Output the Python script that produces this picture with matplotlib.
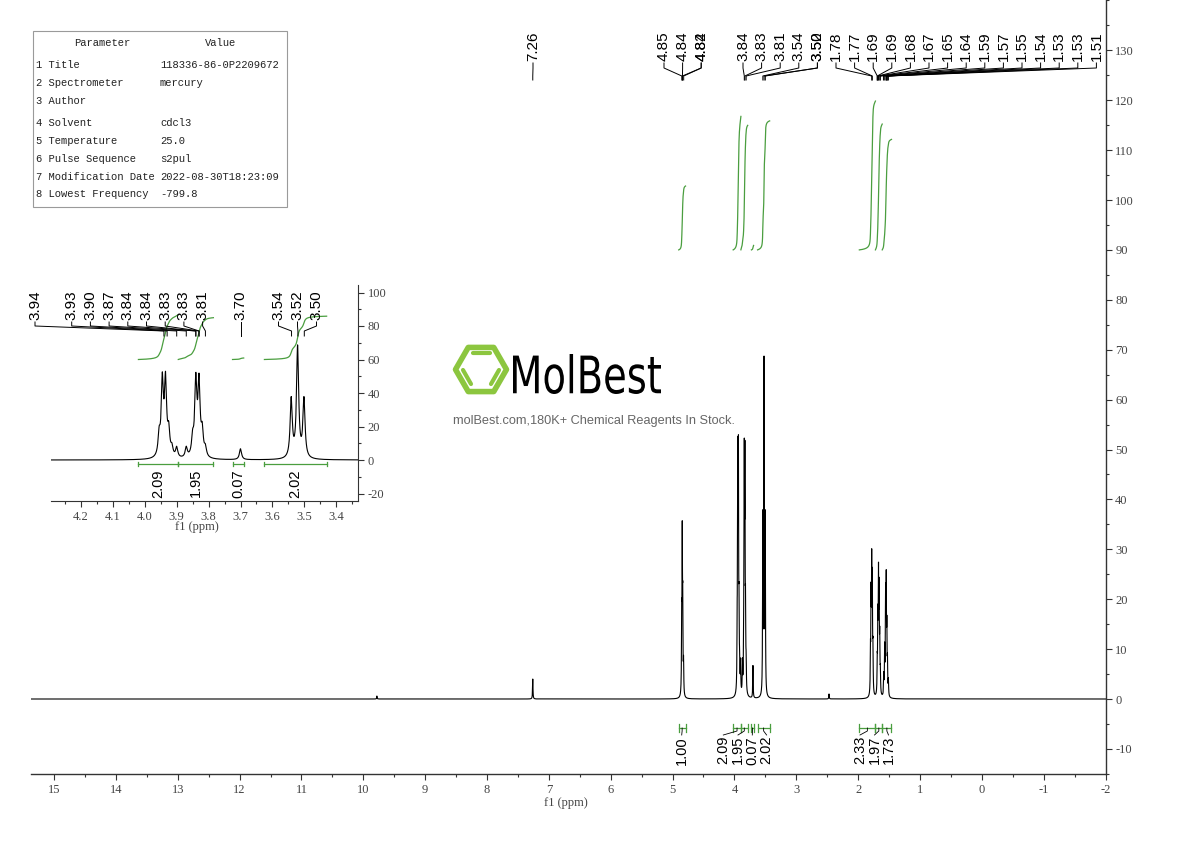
import numpy as np
import matplotlib
matplotlib.use("Agg")
import matplotlib.pyplot as plt
from matplotlib.patches import Rectangle, Polygon, PathPatch
from matplotlib.textpath import TextPath
from matplotlib.font_manager import FontProperties
from matplotlib.transforms import Affine2D
from matplotlib.ticker import MultipleLocator

plt.rcParams['axes.unicode_minus'] = False

# ---------------- data ----------------
peak_ppm = [9.78, 7.26,
            4.852, 4.843, 4.835, 4.822,
            3.955, 3.945, 3.935, 3.925, 3.915,
            3.900, 3.870,
            3.850, 3.840, 3.830, 3.820, 3.810,
            3.700,
            3.541, 3.521, 3.501,
            2.47,
            1.800, 1.790, 1.780, 1.770, 1.760,
            1.690, 1.680, 1.670, 1.660, 1.650, 1.640,
            1.585, 1.570, 1.555, 1.545, 1.535, 1.525, 1.510]
peak_height = [0.6, 4.0,
               14, 30, 16, 6,
               12, 44, 44, 14, 5,
               6, 6,
               10, 44, 43, 14, 5,
               6.5,
               35, 66, 35,
               1.0,
               8, 18, 24, 21, 8,
               6, 14, 22, 19, 10, 4,
               4, 9, 19, 21, 12, 6, 3]
line_hwhm = 0.004

main_labels = ['7.26', '4.85', '4.84', '4.84', '4.82', '3.84', '3.83', '3.81', '3.54',
               '3.52', '3.50', '1.78', '1.77', '1.69', '1.69', '1.68', '1.67', '1.65',
               '1.64', '1.59', '1.57', '1.55', '1.54', '1.53', '1.53', '1.51']
inset_labels = ['3.94', '3.93', '3.90', '3.87', '3.84', '3.84', '3.83', '3.83', '3.81',
                '3.70', '3.54', '3.52', '3.50']

int_values = [1.00, 2.09, 1.95, 0.07, 2.02, 2.33, 1.97, 1.73]
int_from = [4.90, 4.02, 3.895, 3.725, 3.625, 1.98, 1.72, 1.61]
int_to = [4.79, 3.895, 3.785, 3.69, 3.43, 1.72, 1.61, 1.46]
inset_int_index = [1, 2, 3, 4]

param_names = ['1 Title', '2 Spectrometer', '3 Author', '4 Solvent', '5 Temperature',
               '6 Pulse Sequence', '7 Modification Date', '8 Lowest Frequency']
param_values = ['118336-86-0P2209672', 'mercury', '', 'cdcl3', '25.0', 's2pul',
                '2022-08-30T18:23:09', '-799.8']

main_xticks = list(range(-2, 16))
main_yticks = list(range(-10, 131, 10))
inset_xticks = [3.4, 3.5, 3.6, 3.7, 3.8, 3.9, 4.0, 4.1, 4.2]
inset_yticks = [-20, 0, 20, 40, 60, 80, 100]

# ---------------- layout ----------------
W, H = 1190, 841
SERIF = 'Liberation Serif'
SANS = 'Liberation Sans'
MONO = 'Liberation Mono'
GREEN = '#4a9e3f'
TICKC = '#444444'

def fx(px):
    return px / W

def fy(py):
    return 1 - py / H

fig = plt.figure(figsize=(W / 100, H / 100), dpi=100)

# main axes pixel frame
AL, AR, AB, AT = 31, 1105.5, 774, 0
XL, XR = -2.0 + (AR - AL) / 61.85, -2.0
Y0PX, YPX = 699, 4.99          # pixel of y=0, pixels per unit
ax = fig.add_axes([fx(AL), fy(AB), (AR - AL) / W, (AB - AT) / H])
ax.set_xlim(XL, XR)
ax.set_ylim(-(AB - Y0PX) / YPX, (Y0PX - AT) / YPX)

def mppm(px):
    return XL + (px - AL) / (AR - AL) * (XR - XL)

def my(py):
    return (Y0PX - py) / YPX

def spectrum(x):
    y = np.zeros_like(x)
    for p, h in zip(peak_ppm, peak_height):
        y += h * line_hwhm ** 2 / ((x - p) ** 2 + line_hwhm ** 2)
    return y

x = np.arange(-2.0, 15.4, 0.0005)
ax.plot(x, spectrum(x), color='black', lw=0.8)

for s in ['top', 'left']:
    ax.spines[s].set_visible(False)
for s in ['bottom', 'right']:
    ax.spines[s].set_color('#333333')
    ax.spines[s].set_linewidth(1.0)
ax.yaxis.tick_right()
ax.set_xticks(main_xticks)
ax.xaxis.set_minor_locator(MultipleLocator(0.5))
ax.set_yticks(main_yticks)
ax.yaxis.set_minor_locator(MultipleLocator(5))
ax.tick_params(axis='both', which='major', direction='out', length=4, width=0.8,
               colors='#333333', labelcolor=TICKC, labelsize=9, pad=3)
ax.tick_params(axis='both', which='minor', direction='out', length=2.5, width=0.8,
               colors='#333333')
for lab in ax.get_xticklabels() + ax.get_yticklabels():
    lab.set_family(SERIF)
fig.text(fx(566), fy(803), 'f1 (ppm)', ha='center', va='center', family=SERIF,
         fontsize=9, color=TICKC)

# integrals in main
K = 12.8
def integral_curve(i):
    xs = np.linspace(int_from[i], int_to[i], 400)
    ys = spectrum(xs)
    c = np.cumsum(ys)
    c = c / c[-1]
    return xs, c

for i, v in enumerate(int_values):
    xs, c = integral_curve(i)
    ax.plot(xs, 90 + K * v * c, color=GREEN, lw=0.9)

# integral brackets and labels in main
ybr = my(728)
int_label_px = [681.7, 723.3, 738.0, 752.3, 766.6, 860.0, 874.5, 888.5]
for i, v in enumerate(int_values):
    a, b = int_from[i], int_to[i]
    ax.plot([a, b], [ybr, ybr], color=GREEN, lw=0.9)
    for e in (a, b):
        ax.plot([e, e], [ybr - 0.8, ybr + 0.8], color=GREEN, lw=0.9)
    c = (a + b) / 2
    lx = mppm(int_label_px[i])
    ax.plot([c, c, lx], [ybr, my(731), my(735)], color='black', lw=0.6)
    ax.text(lx, my(736), f'{v:.2f}', rotation=90, ha='center', va='top',
            family=SANS, fontsize=10.5, color='black')

# peak labels in main
slots = [533.0] + [664 + 18.6 * k for k in (0, 1, 2, 2)] + \
        [743 + 18.6 * k for k in (0, 1, 2, 3, 4, 4, 5, 6, 7, 8, 9, 10, 11, 12,
                                   13, 14, 15, 16, 17, 18, 19)]
for t, sp in zip(main_labels, slots):
    sx = mppm(sp)
    p = float(t)
    ax.plot([sx, sx, p, p], [my(63), my(68), my(76), my(80)], color='black', lw=0.7,
            clip_on=False)
    ax.text(sx, my(61), t, rotation=90, ha='center', va='bottom', family=SANS,
            fontsize=11, color='black', clip_on=False)

# ---------------- inset ----------------
IL, IR, IB, IT = 51, 358, 501, 285
I0PX, IYPX = 460, 1.675
IXL, IXR = 4.2 + (81 - IL) / 319, 4.2 - (IR - 81) / 319
ins = fig.add_axes([fx(IL), fy(IB), (IR - IL) / W, (IB - IT) / H])
ins.patch.set_alpha(0)
ins.set_xlim(IXL, IXR)
ins.set_ylim(-(IB - I0PX) / IYPX, (I0PX - IT) / IYPX)

def ippm(px):
    return 4.2 - (px - 81) / 319

def iy(py):
    return (I0PX - py) / IYPX

xi = np.arange(3.3, 4.32, 0.0002)
ins.plot(xi, spectrum(xi), color='black', lw=0.8)
for s in ['top', 'left']:
    ins.spines[s].set_visible(False)
for s in ['bottom', 'right']:
    ins.spines[s].set_color('#333333')
ins.yaxis.tick_right()
ins.set_xticks(inset_xticks)
ins.xaxis.set_minor_locator(MultipleLocator(0.05))
ins.set_yticks(inset_yticks)
ins.yaxis.set_minor_locator(MultipleLocator(10))
ins.tick_params(axis='both', which='major', direction='out', length=4, width=0.8,
                colors='#333333', labelcolor=TICKC, labelsize=9, pad=3)
ins.tick_params(axis='both', which='minor', direction='out', length=2.5, width=0.8,
                colors='#333333')
for lab in ins.get_xticklabels() + ins.get_yticklabels():
    lab.set_family(SERIF)
fig.text(fx(197), fy(527), 'f1 (ppm)', ha='center', va='center', family=SERIF,
         fontsize=9, color=TICKC)

for i in inset_int_index:
    xs, c = integral_curve(i)
    ins.plot(xs, 60 + K * int_values[i] * c, color=GREEN, lw=0.9)
    a, b = int_from[i], int_to[i]
    yb = iy(464)
    ins.plot([a, b], [yb, yb], color=GREEN, lw=0.9)
    for e in (a, b):
        ins.plot([e, e], [yb - 1.2, yb + 1.2], color=GREEN, lw=0.9)
    ins.text((a + b) / 2, iy(469), f'{int_values[i]:.2f}', rotation=90, ha='center',
             va='top', family=SANS, fontsize=10.5, color='black')

islots = [35, 71.7, 90.4, 109.1, 127.8, 146.5, 165.2, 183.9, 202.6, 240.5,
          278.5, 297.5, 316.5]
for t, sp in zip(inset_labels, islots):
    sx = ippm(sp)
    p = float(t)
    ins.plot([sx, sx, p, p], [iy(322), iy(326), iy(331), iy(336)], color='black',
             lw=0.7, clip_on=False)
    ins.text(sx, iy(320), t, rotation=90, ha='center', va='bottom', family=SANS,
             fontsize=11, color='black', clip_on=False)

# ---------------- parameter table ----------------
fig.patches.append(Rectangle((fx(33), fy(207)), (287 - 33) / W, (207 - 31) / H,
                             transform=fig.transFigure, fill=False, ec='#9a9a9a', lw=0.8))
fig.text(fx(102), fy(43), 'Parameter', ha='center', va='center', family=MONO,
         fontsize=7.6, color='#222222')
fig.text(fx(221), fy(43), 'Value', ha='center', va='center', family=MONO,
         fontsize=7.6, color='#222222')
row_y = [65, 83, 101, 123, 141, 159, 177, 194]
for n, v, ry in zip(param_names, param_values, row_y):
    fig.text(fx(36), fy(ry), n, ha='left', va='center', family=MONO, fontsize=7.6,
             color='#222222')
    fig.text(fx(160), fy(ry), v, ha='left', va='center', family=MONO, fontsize=7.6,
             color='#222222')

# ---------------- watermark logo ----------------
LG = '#8cc63f'
cx, cy, R = 481, 369.5, 25.5
hexpts = [(fx(cx + R * np.cos(np.radians(a))), fy(cy - R * np.sin(np.radians(a))))
          for a in range(0, 360, 60)]
fig.patches.append(Polygon(hexpts, closed=True, fill=False, ec=LG, lw=4.0,
                           transform=fig.transFigure, joinstyle='round'))
for (x0, y0, x1, y1) in [(473, 353, 490, 353), (463, 370, 471, 384), (499, 370, 491, 384)]:
    fig.lines.append(plt.Line2D([fx(x0), fx(x1)], [fy(y0), fy(y1)], color=LG, lw=3.0,
                                solid_capstyle='round', transform=fig.transFigure))

tp = TextPath((0, 0), 'MolBest', size=1, prop=FontProperties(family='DejaVu Sans'))
bb = tp.get_extents()
bx0, bx1, by0, by1 = 513, 661, 354, 394
tr = (Affine2D().translate(-bb.x0, -bb.y0)
      .scale((bx1 - bx0) / bb.width, (by1 - by0) / bb.height)
      .translate(bx0, H - by1).scale(1 / W, 1 / H) + fig.transFigure)
fig.patches.append(PathPatch(tp, transform=tr, fc='black', ec='none'))
fig.text(fx(594), fy(421), 'molBest.com,180K+ Chemical Reagents In Stock.', ha='center',
         va='center', family=SANS, fontsize=9.2, color='#666666')

fig.savefig('out.png', dpi=100)
